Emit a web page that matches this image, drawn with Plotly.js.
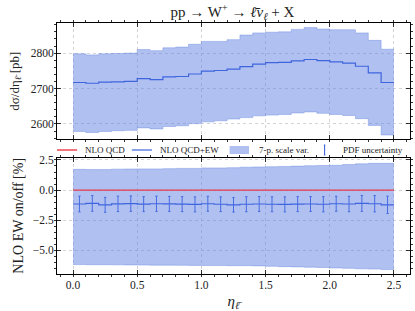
<!DOCTYPE html>
<html>
<head>
<meta charset="utf-8">
<script src="https://cdn.plot.ly/plotly-3.0.1.min.js"></script>
<style>html,body{margin:0;padding:0;background:#fff;}#chart{width:415px;height:311px;}</style>
</head>
<body>
<div id="chart"></div>
<script>
// ---- data ----
const binEdges = [0.0,0.1,0.2,0.3,0.4,0.5,0.6,0.7,0.8,0.9,1.0,1.1,1.2,1.3,1.4,1.5,1.6,1.7,1.8,1.9,2.0,2.1,2.2,2.3,2.4,2.5];
const binCenters = [0.05,0.15,0.25,0.35,0.45,0.55,0.65,0.75,0.85,0.95,1.05,1.15,1.25,1.35,1.45,1.55,1.65,1.75,1.85,1.95,2.05,2.15,2.25,2.35,2.45];
// top panel: NLO QCD+EW dsigma/deta [pb]
const xsecEW   = [2717,2715,2718,2719,2720,2728,2725,2733,2734,2741,2749,2751,2755,2762,2769,2773,2774,2778,2782,2779,2775,2772,2763,2744,2717];
const scaleUp  = [2798,2795,2798,2799,2800,2810,2807,2815,2817,2825,2833,2833,2838,2851,2857,2859,2860,2867,2872,2868,2866,2866,2857,2836,2811];
const scaleDn  = [2579,2576,2579,2581,2582,2589,2586,2593,2595,2601,2606,2609,2614,2618,2623,2625,2627,2631,2634,2630,2627,2624,2615,2596,2569];
// bottom panel: NLO EW on/off [%]
const ratioQCD = [0,0,0,0,0,0,0,0,0,0,0,0,0,0,0,0,0,0,0,0,0,0,0,0,0];
const ratioEW  = [-1.15,-1.10,-1.22,-1.14,-1.12,-1.16,-1.13,-1.14,-1.16,-1.18,-1.13,-1.17,-1.22,-1.17,-1.15,-1.17,-1.18,-1.16,-1.15,-1.17,-1.13,-1.15,-1.10,-1.13,-1.22];
const ratioUp  = [1.72,1.70,1.70,1.74,1.75,1.76,1.76,1.78,1.80,1.80,1.84,1.84,1.86,1.90,1.92,1.94,1.96,1.99,2.02,2.04,2.06,2.12,2.18,2.22,2.22];
const ratioDn  = [-6.17,-6.18,-6.18,-6.19,-6.20,-6.21,-6.22,-6.22,-6.23,-6.24,-6.25,-6.25,-6.26,-6.26,-6.28,-6.31,-6.34,-6.36,-6.39,-6.41,-6.45,-6.48,-6.52,-6.54,-6.58];
const pdfErr   = [0.65,0.65,0.62,0.64,0.64,0.62,0.63,0.62,0.62,0.62,0.62,0.61,0.60,0.62,0.62,0.62,0.62,0.62,0.62,0.63,0.62,0.64,0.66,0.68,0.72];
const legendLabels = ["NLO QCD","NLO QCD+EW","7-p. scale var.","PDF uncertainty"];

// ---- styles ----
const RED = "rgb(236,58,72)";
const BLUE = "rgb(62,100,222)";
const BAND = "rgba(98,129,225,0.5)";
const FONT = "Liberation Serif, DejaVu Serif, serif";

function stepY(v){ return v.concat([v[v.length-1]]); }

const traces = [
  {x: binEdges, y: stepY(scaleDn), xaxis:'x', yaxis:'y', mode:'lines', line:{shape:'hv', width:0.8, color:BAND}, hoverinfo:'skip'},
  {x: binEdges, y: stepY(scaleUp), xaxis:'x', yaxis:'y', mode:'lines', line:{shape:'hv', width:0.8, color:BAND}, fill:'tonexty', fillcolor:BAND, hoverinfo:'skip'},
  {x: binEdges, y: stepY(xsecEW), xaxis:'x', yaxis:'y', mode:'lines', line:{shape:'hv', width:1.2, color:BLUE}},
  {x: binEdges, y: stepY(ratioDn), xaxis:'x2', yaxis:'y2', mode:'lines', line:{shape:'hv', width:0.8, color:BAND}, hoverinfo:'skip'},
  {x: binEdges, y: stepY(ratioUp), xaxis:'x2', yaxis:'y2', mode:'lines', line:{shape:'hv', width:0.8, color:BAND}, fill:'tonexty', fillcolor:BAND, hoverinfo:'skip'},
  {x: binEdges, y: stepY(ratioQCD), xaxis:'x2', yaxis:'y2', mode:'lines', line:{shape:'hv', width:1.4, color:RED}},
  {x: binEdges, y: stepY(ratioEW), xaxis:'x2', yaxis:'y2', mode:'lines', line:{shape:'hv', width:1.2, color:BLUE}},
  {x: binCenters, y: ratioEW, xaxis:'x2', yaxis:'y2', mode:'markers', marker:{size:0.1, color:BLUE},
   error_y:{type:'data', array:pdfErr, visible:true, color:"rgb(70,108,225)", thickness:1.0, width:1.2}}
];

const axBase = {
  showline:true, linecolor:'#000', linewidth:1, mirror:'allticks',
  ticks:'inside', ticklen:4, tickwidth:0.8, tickcolor:'#000',
  showgrid:true, gridcolor:'#c0c0c0', gridwidth:0.7, griddash:'dot',
  zeroline:false, tickfont:{family:FONT, size:11.5, color:'#222'}
};

const layout = {
  width:415, height:311,
  margin:{l:57, r:5, t:23, b:37},
  paper_bgcolor:'#fff', plot_bgcolor:'#fff',
  showlegend:false,
  font:{family:FONT, color:'#222'},
  title:{text:"pp → W<sup>+</sup> → <i>ℓ̄ν<sub>ℓ</sub></i> + X", font:{family:FONT, size:15, color:'#222'}, x:0.56, xanchor:'center', y:0.962, yanchor:'middle'},
  xaxis: Object.assign({}, axBase, {domain:[0,1], anchor:'y', range:[-0.125,2.625], dtick:0.5, showticklabels:false, matches:'x2',
          minor:{dtick:0.1, ticklen:2, tickcolor:'#000', showgrid:false}}),
  yaxis: Object.assign({}, axBase, {domain:[0.537,1], anchor:'x', range:[2557,2885], dtick:100,
          minor:{dtick:20, ticklen:2, tickcolor:'#000', showgrid:false},
          title:{text:"dσ/dη<sub><i>ℓ̄</i></sub> [pb]", font:{family:FONT, size:13, color:'#222'}, standoff:8}}),
  xaxis2: Object.assign({}, axBase, {domain:[0,1], anchor:'y2', range:[-0.125,2.625], dtick:0.5, tickformat:'.1f',
          minor:{dtick:0.1, ticklen:2, tickcolor:'#000', showgrid:false},
          title:{text:"<i>η<sub>ℓ̄</sub></i>", font:{family:FONT, size:15, color:'#222'}, standoff:5}}),
  yaxis2: Object.assign({}, axBase, {domain:[0,0.464], anchor:'x2', range:[-6.95,2.7], dtick:2.5, tickformat:'.1f',
          minor:{dtick:0.5, ticklen:2, tickcolor:'#000', showgrid:false},
          title:{text:"NLO EW on/off [%]", font:{family:FONT, size:14, color:'#222'}, standoff:5}}),
  shapes:[
    {type:'line', xref:'paper', yref:'paper', x0:0.0, x1:0.057, y0:0.494, y1:0.494, line:{color:RED, width:1.4}},
    {type:'line', xref:'paper', yref:'paper', x0:0.212, x1:0.269, y0:0.494, y1:0.494, line:{color:BLUE, width:1.2}},
    {type:'rect', xref:'paper', yref:'paper', x0:0.489, x1:0.544, y0:0.478, y1:0.510, line:{width:0}, fillcolor:BAND},
    {type:'line', xref:'paper', yref:'paper', x0:0.758, x1:0.758, y0:0.474, y1:0.514, line:{color:BLUE, width:1.1}},
    {type:'line', xref:'paper', yref:'paper', x0:0.756, x1:0.760, y0:0.474, y1:0.474, line:{color:BLUE, width:1}},
    {type:'line', xref:'paper', yref:'paper', x0:0.756, x1:0.760, y0:0.514, y1:0.514, line:{color:BLUE, width:1}}
  ],
  annotations:[
    {xref:'paper', yref:'paper', x:0.073, y:0.494, xanchor:'left', yanchor:'middle', showarrow:false, text:legendLabels[0], font:{family:FONT, size:9, color:'#222'}},
    {xref:'paper', yref:'paper', x:0.285, y:0.494, xanchor:'left', yanchor:'middle', showarrow:false, text:legendLabels[1], font:{family:FONT, size:9, color:'#222'}},
    {xref:'paper', yref:'paper', x:0.566, y:0.494, xanchor:'left', yanchor:'middle', showarrow:false, text:legendLabels[2], font:{family:FONT, size:9, color:'#222'}},
    {xref:'paper', yref:'paper', x:0.805, y:0.494, xanchor:'left', yanchor:'middle', showarrow:false, text:legendLabels[3], font:{family:FONT, size:9, color:'#222'}}
  ]
};

Plotly.newPlot('chart', traces, layout, {staticPlot:true, displayModeBar:false});
</script>
</body>
</html>
